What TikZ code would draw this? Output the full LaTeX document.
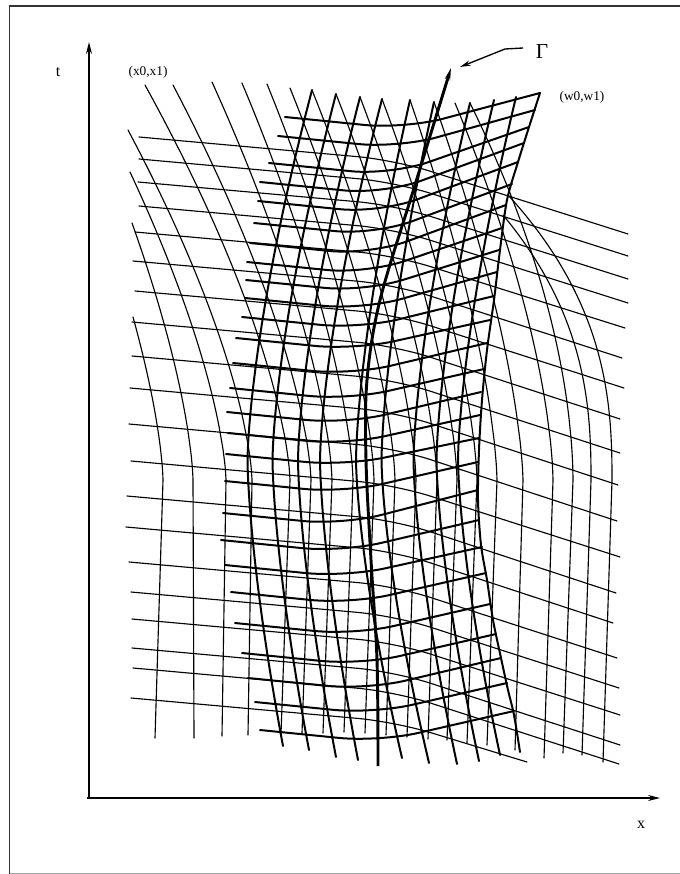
\documentclass[tikz,border=0pt]{standalone}
\usepackage{fontspec}
\setmainfont{Liberation Serif}
\usetikzlibrary{arrows.meta}
\begin{document}
\begin{tikzpicture}[x=0.75pt,y=-0.75pt,
  thinln/.style={line width=0.85pt, line join=round, line cap=round},
  boldln/.style={line width=1.5pt, line join=round, line cap=round},
  gammaln/.style={line width=2.2pt, line join=round},
  axisln/.style={line width=1.1pt},
  lbl/.style={inner sep=0pt, font=\fontsize{10}{11}\selectfont}]
\useasboundingbox (0,0) rectangle (680,874);
\fill[white] (0,0) rectangle (680,874);
% frame
\draw[line width=0.9pt, black!80] (9.5,874) -- (9.5,6) -- (681,6);
\draw[line width=0.6pt, black!35] (9.5,873) -- (681,873);

% thin t-lines
\foreach \xl/\yl/\xr/\yr in {139/137/628/234, 139/159/628/256, 138/182/628/279, 139/206/628/303,
  135/232/625/328, 133/261/622/358, 135/291/624/388, 132/322/620/419, 132/356/620/453,
  130/388/618/485, 129/424/617/521, 131/461/620/557, 127/496/616/593, 126/527/613/623,
  129/562/617/658, 131/592/619/688, 132/619/620/715, 132/648/620/745, 133/668/619/764,
  131/698/527/762}{
  \pgfmathsetmacro{\ym}{\yl+0.09*(395-\xl)}
  \draw[thinln, rounded corners=28pt] (\xl,\yl) -- (395,\ym) -- (\xr,\yr);
}

% thin x-lines: top point, knee x (at y=480), exponent, bottom point
\foreach \xt/\yt/\xk/\pw/\xb/\yb in {133/317/163/1.5/155/738, 132/223/193/1.5/194/738,
  130/172/226/1.5/222/736, 128/130/252/1.5/248/735,
  145/85/290/1.5/281/734, 173/85/311/1.5/302/733, 212/82/332/1.5/323/733, 242/83/353/1.5/344/732,
  267/84/374/1.5/365/733, 290/88/395/1.5/386/735, 312/90/416/1.5/407/737, 336/94/437/1.5/428/739,
  360/97/457/1.5/447/740, 382/99/477/1.5/467/743, 410/100/497/1.5/487/745, 434/102/523/1.5/515/750,
  455/103/553/1.6/544/758, 470/103/573/1.8/563/753, 503/215/591/2.5/582/755, 508/195/612/2.5/603/762}{
  \draw[thinln] plot[variable=\t, domain=\yt:479.5, samples=30, smooth]
    ({\xk-(\xk-\xt)*pow((480-\t)/(480-\yt),\pw)}, \t) -- (\xk,480) -- (\xb,\yb);
}

% bold t-lines (U shaped)
\foreach \xl/\yl/\xr/\yr in {285/117/540/93, 278/136/535/110, 269/163/529/127, 260/182/524/143,
  258/201/518/162, 254/223/512/184, 250/243/506/205, 247/262/502/228, 246/280/499/250,
  245/298/497/272, 242/317/494/296, 236/338/490/320, 233/363/487/343, 230/388/484/369,
  227/412/481/392, 228/433/480/415, 226/454/479/438, 225/481/478/462, 223/513/478/490,
  221/540/479/520, 225/565/482/547, 231/592/486/573, 235/623/490/604, 242/653/496/634,
  248/678/501/658, 255/702/507/683, 260/730/514/711}{
  \pgfmathsetmacro{\xm}{(\xl+\xr)/2-8}
  \pgfmathsetmacro{\ym}{\yl+0.1*(\xm-\xl)}
  \draw[boldln, rounded corners=30pt] (\xl,\yl) -- (\xm,\ym) -- (\xr,\yr);
}

% bold x-lines ( "(" shaped )
\foreach \xt/\yt/\xb/\yb in {312/90/283/746, 336/94/309/750, 360/97/336/757, 382/99/358/760,
  410/100/402/758, 434/102/429/763, 470/103/457/764, 494/100/479/761, 516/97/500/755}{
  \pgfmathsetmacro{\xk}{(\xt+\xb)/2-50}
  \draw[boldln] plot[variable=\t, domain=\yt:460, samples=30, smooth]
    ({\xk+(\xt-\xk)*((460-\t)/(460-\yt))*sqrt((460-\t)/(460-\yt))}, \t)
    -- plot[variable=\t, domain=460:\yb, samples=30, smooth]
    ({\xk+(\xb-\xk)*((\t-460)/(\yb-460))*sqrt((\t-460)/(\yb-460))}, \t);
}
% right boundary of the bold grid
\coordinate (wcorner) at (540,93);
\draw[boldln] plot[smooth, tension=0.5] coordinates {(wcorner) (529,127) (518,162)
  (507,200) (500,250) (494,300) (487,350) (482,400) (479,450) (478,500)
  (481,545) (487,580) (493,620) (501,658) (508,690) (514,715) (520,752)};

% Gamma curve
\coordinate (gtop) at (451,68);
\draw[gammaln, -{Stealth[length=9pt,width=4pt]}] plot[smooth, tension=0.55] coordinates
  {(378,766) (377,660) (371,560) (366,460) (367,380) (380,300) (415,185) (gtop)};

% axes
\coordinate (O) at (89,798);
\coordinate (ttip) at (89,42);
\coordinate (xtip) at (660,798);
\draw[axisln, -{Stealth[length=9pt,width=4.5pt]}] (O) -- (ttip);
\draw[axisln, -{Stealth[length=9pt,width=4.5pt]}] (87,798) -- (xtip);

% labels
\node[inner sep=0pt, font=\fontsize{12}{12}\selectfont] (tlab) at (58,72) {t};
\node[inner sep=0pt, font=\fontsize{12}{12}\selectfont] (xlab) at (641,825) {x};
\node[lbl] (xx) at (148,72) {(x0,x1)};
\node[lbl] (ww) at (582,97) {(w0,w1)};
\node[inner sep=0pt, font=\fontsize{16}{16}\selectfont] (G) at (542,52) {Γ};
\coordinate (gp) at (523,48);
\draw[line width=1pt, -{Stealth[length=8pt,width=4pt]}] (gp) -- (505,49) -- (460,67);
\end{tikzpicture}
\end{document}
